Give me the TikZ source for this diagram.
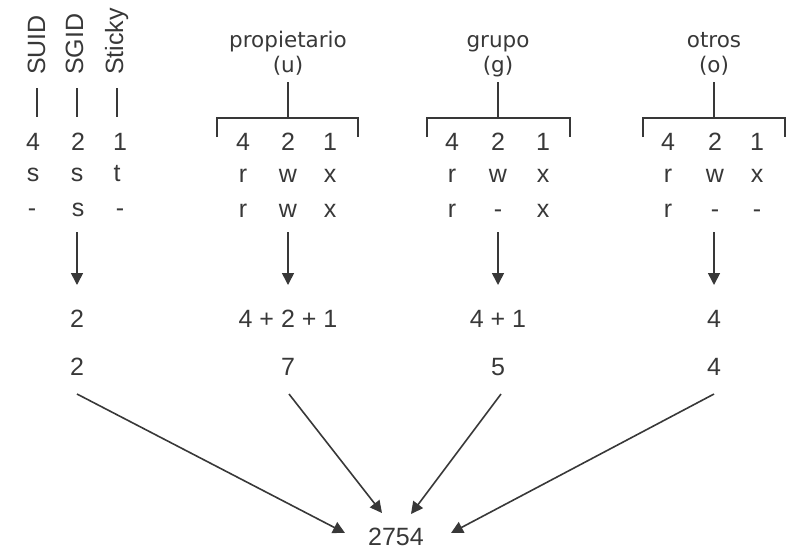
\documentclass[tikz,border=0pt]{standalone}
\usepackage{fontspec}
\setmainfont{Liberation Sans}
\newfontfamily\hdfont{DejaVu Sans}
\usetikzlibrary{arrows.meta}
\definecolor{ink}{HTML}{383838}
\tikzset{
  lbl/.style={anchor=base, inner sep=0pt, text=ink, font=\fontsize{25}{30}\selectfont},
  hd/.style={anchor=base, inner sep=0pt, text=ink, font=\hdfont\fontsize{21.5}{26}\selectfont},
  vlbl/.style={rotate=90, anchor=base west, inner sep=0pt, text=ink, font=\fontsize{25}{30}\selectfont},
  ln/.style={draw=ink, line width=1.6pt},
  arr/.style={draw=ink, line width=1.6pt, -{Triangle[length=12pt,width=12pt]}},
}
\begin{document}
\begin{tikzpicture}[x=1pt,y=-1pt]
\useasboundingbox (0,0) rectangle (805,558);

% special bits
\node[vlbl] (suid) at (45,75) {SUID};
\node[vlbl] (sgid) at (83,75) {SGID};
\node[vlbl] (sticky) at (123,75) {Sticky};
\coordinate (suidA) at (37,88);  \coordinate (suidB) at (37,117);
\coordinate (sgidA) at (77,88);  \coordinate (sgidB) at (77,117);
\coordinate (stkA) at (117,88);  \coordinate (stkB) at (117,117);
\draw[ln] (suidA) -- (suidB);
\draw[ln] (sgidA) -- (sgidB);
\draw[ln] (stkA) -- (stkB);

\node[lbl] (s1) at (33,150) {4};
\node[lbl] (s2) at (78,150) {2};
\node[lbl] (s3) at (120,150) {1};
\node[lbl] (s4) at (33,181) {s};
\node[lbl] (s5) at (77,181) {s};
\node[lbl] (s6) at (117,181) {t};
\node[lbl] (s7) at (32,216) {-};
\node[lbl] (s8) at (78,216) {s};
\node[lbl] (s9) at (120,216) {-};

% headers
\node[hd] (hu) at (288,47) {propietario};
\node[hd] (hu2) at (288,72) {(u)};
\node[hd] (hg) at (498,47) {grupo};
\node[hd] (hg2) at (498,72) {(g)};
\node[hd] (ho) at (714,47) {otros};
\node[hd] (ho2) at (714,72) {(o)};

% brackets
\foreach \c/\l/\r/\n in {288/217/358/u, 498/427/570/g, 714/643/785/o}{
  \coordinate (\n top) at (\c,82);
  \coordinate (\n mid) at (\c,118);
  \coordinate (\n L) at (\l,118);
  \coordinate (\n R) at (\r,118);
  \coordinate (\n Ld) at (\l,137);
  \coordinate (\n Rd) at (\r,137);
  \draw[ln] (\n top) -- (\n mid);
  \draw[ln] (\n Ld) -- (\n L) -- (\n R) -- (\n Rd);
}

% propietario
\node[lbl] (u1) at (243,150) {4};
\node[lbl] (u2) at (288,150) {2};
\node[lbl] (u3) at (330,150) {1};
\node[lbl] (u4) at (243,182) {r};
\node[lbl] (u5) at (288,182) {w};
\node[lbl] (u6) at (330,182) {x};
\node[lbl] (u7) at (243,217) {r};
\node[lbl] (u8) at (288,217) {w};
\node[lbl] (u9) at (330,217) {x};
% grupo
\node[lbl] (g1) at (452,150) {4};
\node[lbl] (g2) at (498,150) {2};
\node[lbl] (g3) at (543,150) {1};
\node[lbl] (g4) at (452,182) {r};
\node[lbl] (g5) at (498,182) {w};
\node[lbl] (g6) at (543,182) {x};
\node[lbl] (g7) at (452,217) {r};
\node[lbl] (g8) at (498,217) {-};
\node[lbl] (g9) at (543,217) {x};
% otros
\node[lbl] (o1) at (668,150) {4};
\node[lbl] (o2) at (715,150) {2};
\node[lbl] (o3) at (757,150) {1};
\node[lbl] (o4) at (668,182) {r};
\node[lbl] (o5) at (715,182) {w};
\node[lbl] (o6) at (757,182) {x};
\node[lbl] (o7) at (668,217) {r};
\node[lbl] (o8) at (715,217) {-};
\node[lbl] (o9) at (757,217) {-};

% down arrows
\foreach \x/\n in {77/a, 288/b, 498/c, 714/d}{
  \coordinate (\n s) at (\x,232);
  \coordinate (\n e) at (\x,285);
  \draw[arr] (\n s) -- (\n e);
}

% sums
\node[lbl] (sa) at (77,327) {2};
\node[lbl] (sb) at (288,327) {4 + 2 + 1};
\node[lbl] (sc) at (498,327) {4 + 1};
\node[lbl] (sd) at (714,327) {4};
\node[lbl] (ta) at (77,375) {2};
\node[lbl] (tb) at (288,375) {7};
\node[lbl] (tc) at (498,375) {5};
\node[lbl] (td) at (714,375) {4};

\node[lbl] (res) at (396,545) {2754};

\coordinate (fa) at (77,394);  \coordinate (ea) at (345,533);
\coordinate (fb) at (289,394); \coordinate (eb) at (382,513);
\coordinate (fc) at (501,394); \coordinate (ec) at (411,514);
\coordinate (fd) at (714,394); \coordinate (ed) at (451,533);
\draw[arr] (fa) -- (ea);
\draw[arr] (fb) -- (eb);
\draw[arr] (fc) -- (ec);
\draw[arr] (fd) -- (ed);
\end{tikzpicture}
\end{document}
